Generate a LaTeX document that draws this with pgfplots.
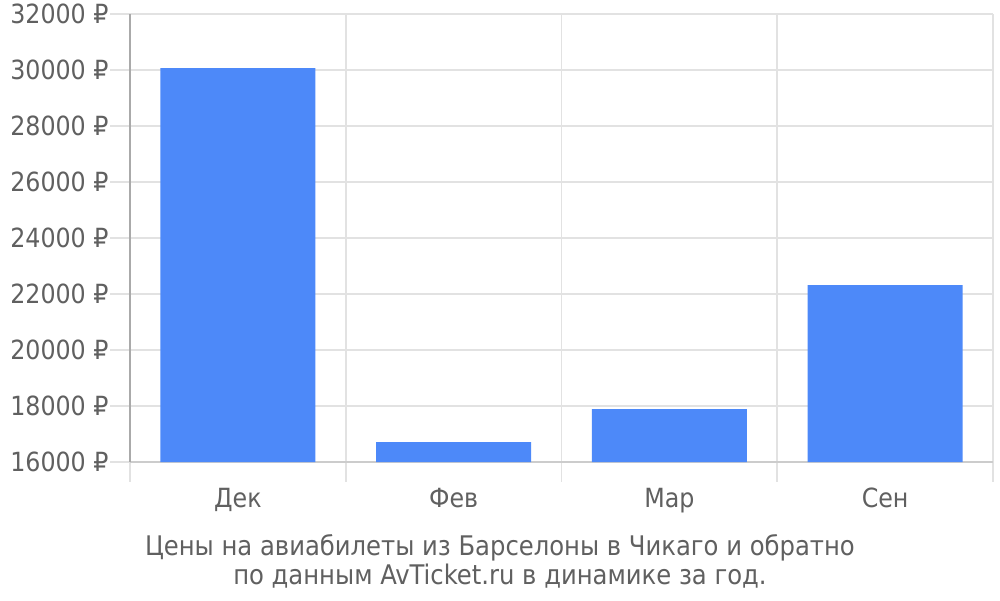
\documentclass[border=0pt]{standalone}
\usepackage{fontspec}
\setmainfont{DejaVu Sans Condensed}
\usepackage{pgfplots}
\pgfplotsset{compat=1.18}
\definecolor{barblue}{HTML}{4D89F9}
\definecolor{txtgray}{HTML}{606060}
\definecolor{gridgray}{HTML}{E2E2E2}
\definecolor{axgray}{HTML}{AAAAAA}
\definecolor{bottomgray}{HTML}{CCCCCC}
\begin{document}
\begin{tikzpicture}
\useasboundingbox (0,0) rectangle (500pt,300pt);
\begin{axis}[
  at={(65pt,69pt)}, anchor=south west,
  scale only axis, width=431.5pt, height=224pt,
  xmin=0, xmax=4, ymin=16000, ymax=32000,
  scaled y ticks=false, scaled x ticks=false,
  axis x line*=bottom, axis y line*=left,
  x axis line style={-, draw=bottomgray, line width=0.8pt},
  y axis line style={-, draw=axgray, line width=0.8pt},
  xtick={0,1,2,3,4}, xticklabels={,,,,},
  extra x ticks={0.5,1.5,2.5,3.5},
  extra x tick labels={Дек,Фев,Мар,Сен},
  extra x tick style={grid=none, major tick length=0pt, tick label style={yshift=-9.5pt}},
  ytick={16000,18000,...,32000},
  yticklabels={16000 ₽,18000 ₽,20000 ₽,22000 ₽,24000 ₽,26000 ₽,28000 ₽,30000 ₽,32000 ₽},
  y tick label style={xshift=2.8pt},
  grid=major,
  major grid style={draw=gridgray, line width=0.8pt},
  tick align=outside, major tick length=10pt,
  tick style={draw=gridgray, line width=0.8pt},
  every tick label/.append style={font=\fontsize{13.2}{15}\selectfont, text=txtgray},
  ybar, bar width=77.5pt,
]
\addplot[fill=barblue, draw=none] coordinates {(0.5,30070) (1.5,16710) (2.5,17890) (3.5,22320)};
\end{axis}
\node[align=center, text=txtgray, font=\fontsize{13.5}{14.5}\selectfont] at (250pt,19.5pt)
  {Цены на авиабилеты из Барселоны в Чикаго и обратно\\по данным AvTicket.ru в динамике за год.};
\end{tikzpicture}
\end{document}
